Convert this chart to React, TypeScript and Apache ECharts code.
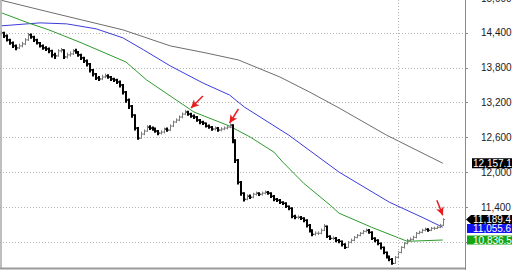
import React, { useEffect, useRef } from "react";
import * as echarts from "echarts";

// ---- data ----
const firstOpen = 14380;
const closes = [
  14400, 14348, 14279, 14228, 14176, 14141, 14176, 14210, 14279, 14366,
  14331, 14279, 14228, 14176, 14141, 14124, 14090, 14021, 14003, 14090,
  14107, 13986, 14021, 14038, 14090, 14072, 14021, 13969, 13917, 13866,
  13762, 13693, 13624, 13607, 13641, 13659, 13641, 13607, 13590, 13555,
  13504, 13383, 13245, 13141, 12986, 12762, 12590, 12659, 12710, 12779,
  12762, 12745, 12710, 12676, 12693, 12745, 12728, 12797, 12866, 12900,
  12952, 13004, 13038, 13004, 12969, 12952, 12900, 12866, 12848, 12797,
  12779, 12745, 12762, 12728, 12745, 12762, 12779, 12814, 12555, 12211,
  11831, 11642, 11538, 11590, 11573, 11624, 11642, 11624, 11642, 11659,
  11642, 11590, 11538, 11521, 11486, 11469, 11417, 11383, 11245, 11228,
  11228, 11211, 11176, 11090, 11004, 10935, 10952, 10952, 11004, 11073,
  10900, 10866, 10866, 10831, 10814, 10762, 10710, 10797, 10831, 10883,
  10917, 10952, 10986, 11004, 10969, 10866, 10831, 10779, 10710, 10624,
  10555, 10504, 10435, 10538, 10624, 10710, 10779, 10831, 10848, 10883,
  10952, 10969, 11004, 11021, 11004, 11038, 11038, 11055, 11090, 11189.4,
];
const highs = [
  14440, 14420, 14370, 14300, 14250, 14200, 14215, 14245, 14310, 14400,
  14390, 14350, 14300, 14245, 14200, 14170, 14150, 14110, 14060, 14120,
  14140, 14120, 14060, 14080, 14120, 14125, 14090, 14040, 13990, 13940,
  13880, 13780, 13710, 13660, 13680, 13700, 13690, 13660, 13630, 13610,
  13580, 13520, 13400, 13270, 13160, 13000, 12780, 12700, 12740, 12810,
  12810, 12790, 12770, 12730, 12725, 12770, 12770, 12825, 12890, 12930,
  12980, 13030, 13075, 13060, 13025, 12995, 12970, 12920, 12890, 12860,
  12825, 12800, 12790, 12780, 12775, 12790, 12810, 12840, 12830, 12570,
  12230, 11850, 11660, 11620, 11620, 11650, 11670, 11660, 11670, 11690,
  11680, 11660, 11610, 11560, 11540, 11505, 11485, 11430, 11400, 11270,
  11260, 11250, 11230, 11195, 11110, 11020, 10985, 10985, 11035, 11110,
  11085, 10920, 10900, 10890, 10855, 10830, 10780, 10820, 10860, 10905,
  10940, 10975, 11010, 11035, 11025, 10985, 10885, 10850, 10795, 10725,
  10640, 10570, 10525, 10560, 10645, 10730, 10800, 10855, 10880, 10910,
  10975, 10995, 11030, 11050, 11040, 11060, 11065, 11080, 11115, 11210,
];
const lows = [
  14345, 14310, 14250, 14195, 14140, 14100, 14120, 14150, 14190, 14260,
  14300, 14245, 14200, 14150, 14110, 14090, 14050, 13975, 13950, 13990,
  14060, 13950, 13960, 13990, 14020, 14040, 13990, 13935, 13880, 13820,
  13720, 13650, 13590, 13570, 13590, 13620, 13610, 13570, 13555, 13520,
  13460, 13340, 13200, 13090, 12940, 12720, 12560, 12580, 12640, 12700,
  12730, 12715, 12680, 12640, 12650, 12670, 12700, 12710, 12780, 12850,
  12880, 12930, 12985, 12975, 12940, 12920, 12870, 12830, 12815, 12770,
  12750, 12715, 12720, 12700, 12705, 12725, 12740, 12760, 12500, 12160,
  11790, 11600, 11500, 11520, 11540, 11555, 11600, 11595, 11600, 11620,
  11615, 11560, 11505, 11490, 11455, 11440, 11385, 11350, 11210, 11195,
  11195, 11180, 11140, 11050, 10965, 10900, 10910, 10920, 10935, 10990,
  10870, 10835, 10835, 10800, 10780, 10725, 10680, 10700, 10780, 10815,
  10865, 10900, 10935, 10965, 10945, 10835, 10800, 10745, 10675, 10590,
  10520, 10470, 10410, 10425, 10520, 10605, 10690, 10760, 10810, 10830,
  10865, 10935, 10950, 10985, 10980, 10990, 11010, 11025, 11040, 11080,
];
const emptySlots = 7;

// moving averages: [bar index, value]
const maSlow: [number, number][] = [
  [0, 14960], [13, 14797], [27, 14624], [41, 14452], [57, 14176], [69, 14055],
  [80, 13934], [94, 13641], [104, 13383], [114, 13107], [130, 12641], [149, 12157.1],
];
const maMid: [number, number][] = [
  [0, 14521], [13, 14572], [22, 14555], [32, 14469], [41, 14314], [48, 14107],
  [57, 13831], [68, 13538], [77, 13331], [82, 13124], [97, 12641], [114, 12004],
  [131, 11486], [142, 11228], [149, 11055.6],
];
const maFast: [number, number][] = [
  [0, 14745], [9, 14572], [16, 14452], [27, 14228], [42, 13900], [49, 13590],
  [57, 13314], [65, 13038], [77, 12797], [84, 12607], [92, 12348], [95, 12176],
  [102, 11814], [111, 11435], [114, 11297], [125, 11055], [137, 10814], [149, 10836.5],
];

// red annotation arrows: [tail, head] as [bar index, value]
const arrows: [[number, number], [number, number]][] = [
  [[68, 13314], [64, 13107]],
  [[80, 13090], [77, 12848]],
  [[147, 11521], [149, 11262]],
];
const separatorIndex = 134;

const yMin = 10200;
const yMax = 15000;
const yStep = 600;

// ---- styling ----
const W = 512;
const H = 270;
const GRID_RIGHT = 47;
const FONT = 'Arial, "Liberation Sans", sans-serif';
const C_SLOW = "#6e6e6e";
const C_MID = "#3c3cdc";
const C_FAST = "#2e9a2e";

export default function App() {
  const ref = useRef<HTMLDivElement>(null);
  useEffect(() => {
    const chart = echarts.init(ref.current!, null, { renderer: "svg" });
    const n = closes.length;
    const categories = Array.from({ length: n + emptySlots }, (_, i) => String(i + 1));
    const ohlc = closes.map((c, i) => [i, i === 0 ? firstOpen : closes[i - 1], c, lows[i], highs[i]]);

    let hiddenTicks: number[] = [];
    const labelFmt = (v: number) => (hiddenTicks.indexOf(v) >= 0 ? "" : v.toLocaleString("en-US"));

    const option: any = {
      animation: false,
      backgroundColor: "#fff",
      textStyle: { fontFamily: FONT },
      grid: {
        left: 0,
        right: GRID_RIGHT,
        top: -2,
        bottom: -7,
        show: false,
        containLabel: false,
        outerBoundsMode: "none",
      },
      xAxis: {
        type: "category",
        data: categories,
        boundaryGap: true,
        show: false,
      },
      yAxis: {
        type: "value",
        position: "right",
        min: yMin,
        max: yMax,
        interval: yStep,
        axisLine: { show: true, lineStyle: { color: "#8c8c8c", width: 1 } },
        axisTick: { show: true, length: 3, lineStyle: { color: "#8c8c8c" } },
        axisLabel: {
          margin: 16,
          color: "#1a1a1a",
          fontSize: 10,
          lineHeight: 8,
          fontFamily: FONT,
          formatter: labelFmt,
        },
        splitLine: { show: true, lineStyle: { color: "#b4b4b4", type: [1, 2], width: 1 } },
      },
      series: [
        {
          type: "line",
          data: maSlow,
          symbol: "none",
          lineStyle: { color: C_SLOW, width: 1 },
          silent: true,
          z: 2,
          markLine: {
            silent: true,
            symbol: ["none", "none"],
            label: { show: false },
            lineStyle: { color: "#b4b4b4", type: [1, 2], width: 1 },
            data: [{ xAxis: separatorIndex }],
          },
        },
        {
          type: "line",
          data: maMid,
          symbol: "none",
          lineStyle: { color: C_MID, width: 1 },
          silent: true,
          z: 2,
        },
        {
          type: "line",
          data: maFast,
          symbol: "none",
          lineStyle: { color: C_FAST, width: 1 },
          silent: true,
          z: 2,
          markLine: {
            silent: true,
            symbol: ["none", "arrow"],
            symbolSize: [6, 8],
            label: { show: false },
            lineStyle: { color: "#e81c1c", type: "solid", width: 1.5 },
            data: arrows.map(([t, h]) => [{ coord: t }, { coord: h }]),
          },
        },
        {
          type: "custom",
          data: ohlc,
          encode: { x: 0, y: [1, 2, 3, 4] },
          z: 3,
          silent: true,
          renderItem: (_params: any, api: any) => {
            const idx = api.value(0);
            const o = api.value(1);
            const c = api.value(2);
            const l = api.value(3);
            const h = api.value(4);
            const pH = api.coord([idx, h]);
            const pL = api.coord([idx, l]);
            const pO = api.coord([idx, o]);
            const pC = api.coord([idx, c]);
            const up = c >= o;
            const x = up ? Math.round(pH[0]) + 0.5 : Math.round(pH[0]);
            const color = up ? "#7c7c7c" : "#000";
            const lw = up ? 1 : 2;
            const half = lw / 2;
            return {
              type: "group",
              children: [
                { type: "line", shape: { x1: x, y1: pH[1], x2: x, y2: pL[1] }, style: { stroke: color, lineWidth: lw } },
                { type: "line", shape: { x1: x - half - 1, y1: pO[1], x2: x, y2: pO[1] }, style: { stroke: color, lineWidth: 1 } },
                { type: "line", shape: { x1: x, y1: pC[1], x2: x + half + 1, y2: pC[1] }, style: { stroke: color, lineWidth: 1 } },
              ],
            };
          },
        },
      ],
    };
    chart.setOption(option);

    // value tags on the price scale
    const axisX = W - GRID_RIGHT;
    const yOf = (v: number) => chart.convertToPixel({ yAxisIndex: 0 }, v) as number;
    const fmt = (v: number) =>
      v.toLocaleString("en-US", { minimumFractionDigits: 1, maximumFractionDigits: 1 });
    const lastClose = closes[n - 1];
    const stacked = [
      { v: lastClose, color: "#000", arrow: true },
      { v: maMid[maMid.length - 1][1], color: "#1212f2", arrow: false },
      { v: maFast[maFast.length - 1][1], color: "#14a514", arrow: false },
    ]
      .map((t) => ({ ...t, y: yOf(t.v) }))
      .sort((a, b) => a.y - b.y);
    const TH = 9;
    for (let k = 1; k < stacked.length; k++) {
      if (stacked[k].y < stacked[k - 1].y + TH) stacked[k].y = stacked[k - 1].y + TH;
    }
    const slowLast = maSlow[maSlow.length - 1][1];
    const ys = yOf(slowLast);

    // hide axis labels that sit underneath a tag or fall below the panel
    const tagYs = stacked.map((t) => t.y).concat([ys]);
    for (let v = yMin; v <= yMax; v += yStep) {
      const py = yOf(v);
      if (py > H || tagYs.some((ty) => Math.abs(ty - py) < 8)) hiddenTicks.push(v);
    }

    const graphics: any[] = [];
    const tagText = (text: string, y: number) => ({
      type: "text",
      z: 101,
      style: {
        text,
        x: axisX + 8,
        y: y + 0.5,
        fill: "#fff",
        font: `10px ${FONT}`,
        lineHeight: 9,
        verticalAlign: "middle",
      },
    });
    stacked.forEach((t) => {
      if (t.arrow) {
        graphics.push({
          type: "polygon",
          z: 100,
          shape: {
            points: [
              [axisX + 1, t.y],
              [axisX + 6, t.y - TH / 2],
              [W, t.y - TH / 2],
              [W, t.y + TH / 2],
              [axisX + 6, t.y + TH / 2],
            ],
          },
          style: { fill: t.color },
        });
      } else {
        graphics.push({
          type: "rect",
          z: 100,
          shape: { x: axisX + 2, y: t.y - TH / 2, width: W - axisX - 2, height: TH },
          style: { fill: t.color },
        });
      }
      graphics.push(tagText(fmt(t.v), t.y));
    });
    graphics.push({
      type: "rect",
      z: 100,
      shape: { x: axisX + 7, y: ys - 5, width: W - axisX - 7, height: 10 },
      style: { fill: "#000" },
    });
    graphics.push(tagText(fmt(slowLast), ys));
    // panel frame (left and bottom borders)
    graphics.push({
      type: "line",
      z: 50,
      shape: { x1: 1, y1: 0, x2: 1, y2: H - 2 },
      style: { stroke: "#a8a8a8", lineWidth: 1.5 },
    });
    graphics.push({
      type: "line",
      z: 50,
      shape: { x1: 0, y1: H - 1.5, x2: axisX, y2: H - 1.5 },
      style: { stroke: "#9a9a9a", lineWidth: 2 },
    });
    chart.setOption({ graphic: graphics, yAxis: { axisLabel: { formatter: labelFmt } } });

    return () => chart.dispose();
  }, []);
  return (
    <div
      ref={ref}
      style={{ position: "fixed", left: 0, top: 0, width: W, height: H, background: "#fff" }}
    />
  );
}
